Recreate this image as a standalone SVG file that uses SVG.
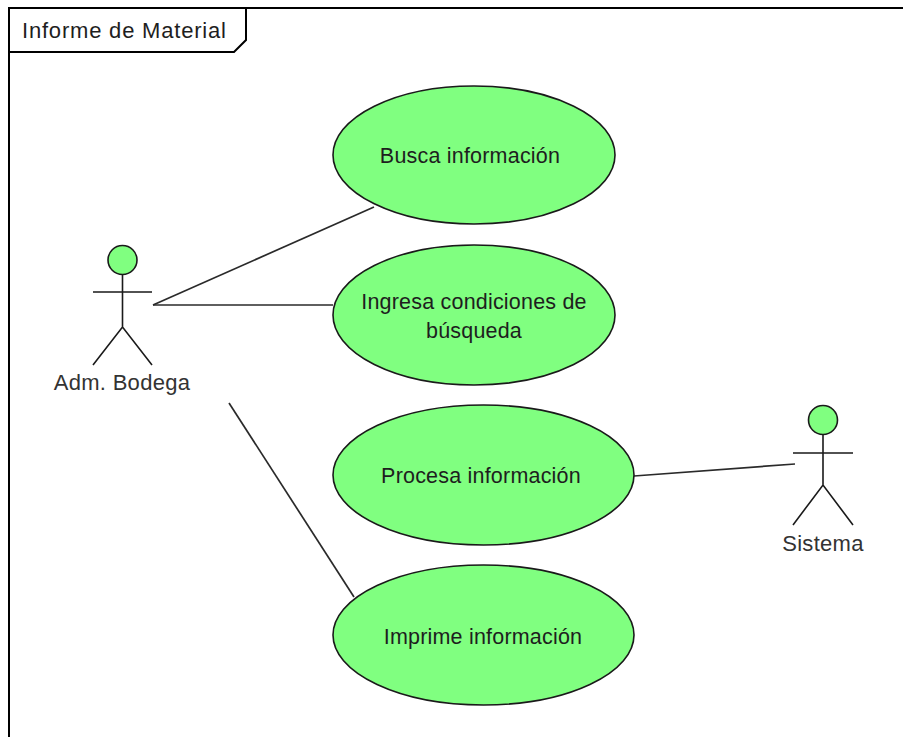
<svg xmlns="http://www.w3.org/2000/svg" width="903" height="737" viewBox="0 0 903 737">
  <style>
    .frame { fill: none; stroke: #000; stroke-width: 2; }
    .uc { fill: #80FF80; stroke: #1a1a1a; stroke-width: 1.6; }
    .txt { font-family: "Liberation Sans", Arial, sans-serif; font-size: 21.5px; fill: #1e1e1e; text-anchor: middle; letter-spacing: 0.2px; }
    .lbl { font-family: "Liberation Sans", Arial, sans-serif; font-size: 22px; fill: #333; text-anchor: middle; letter-spacing: 0.3px; }
    .title { font-family: "Liberation Sans", Arial, sans-serif; font-size: 22px; fill: #1e1e1e; letter-spacing: 0.8px; }
    .head { fill: #80FF80; stroke: #1a1a1a; stroke-width: 1.6; }
    .stick { fill: none; stroke: #1a1a1a; stroke-width: 1.6; }
    .assoc { fill: none; stroke: #2a2a2a; stroke-width: 1.7; }
  </style>
  <rect width="903" height="737" fill="#fff"/>

  <!-- system frame with its name tab -->
  <g id="frame">
    <path class="frame" d="M9,737 V8 H903"/>
    <path class="frame" d="M9,52 H234 L246,40 V8"/>
    <text class="title" x="22" y="38">Informe de Material</text>
  </g>

  <!-- associations between actors and use cases -->
  <g id="connectors">
    <line class="assoc" x1="153" y1="305" x2="374" y2="207"/>
    <line class="assoc" x1="153" y1="305" x2="333" y2="305"/>
    <line class="assoc" x1="229" y1="403" x2="354" y2="597"/>
    <line class="assoc" x1="634" y1="476" x2="795" y2="464"/>
  </g>

  <g id="actor-adm-bodega">
    <circle class="head" cx="122.5" cy="260" r="14.5"/>
    <path class="stick" d="M122.5,274.5 V327 M93,292 H152 M93,365 L122.5,327 L152,365"/>
    <text class="lbl" x="122" y="390">Adm. Bodega</text>
  </g>

  <g id="actor-sistema">
    <circle class="head" cx="823" cy="420" r="14.5"/>
    <path class="stick" d="M823,434.5 V485 M793,453 H853 M793,525 L823,485 L853,525"/>
    <text class="lbl" x="823" y="551">Sistema</text>
  </g>

  <g id="uc-busca">
    <ellipse class="uc" cx="474" cy="155" rx="141" ry="69"/>
    <text class="txt" x="470" y="163">Busca información</text>
  </g>

  <g id="uc-ingresa">
    <ellipse class="uc" cx="474" cy="315" rx="141" ry="70"/>
    <text class="txt" x="474" y="309">Ingresa condiciones de</text>
    <text class="txt" x="474" y="338">búsqueda</text>
  </g>

  <g id="uc-procesa">
    <ellipse class="uc" cx="483.5" cy="475" rx="150.5" ry="70"/>
    <text class="txt" x="481" y="483">Procesa información</text>
  </g>

  <g id="uc-imprime">
    <ellipse class="uc" cx="483.5" cy="635" rx="150.5" ry="70"/>
    <text class="txt" x="483" y="644">Imprime información</text>
  </g>
</svg>
